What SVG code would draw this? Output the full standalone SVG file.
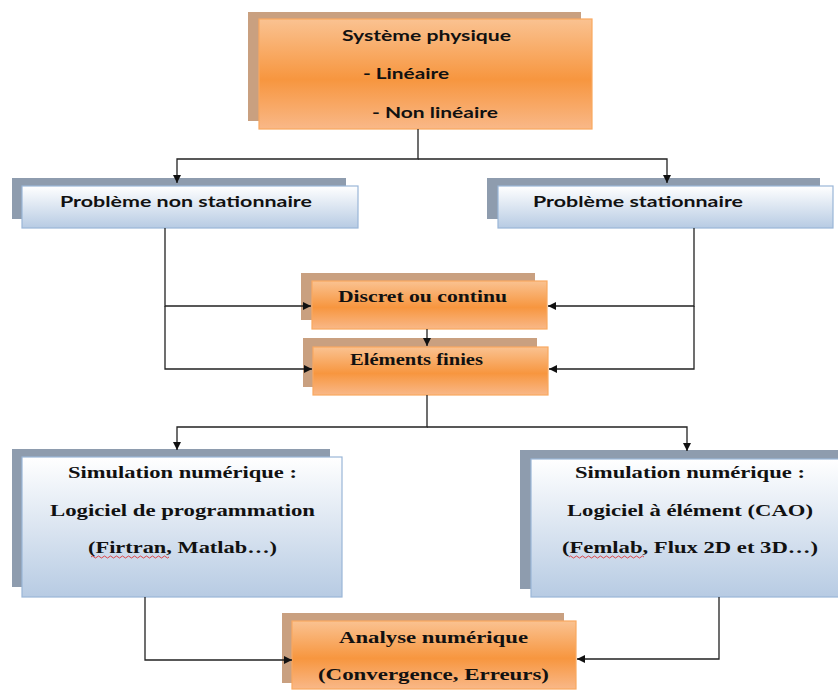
<svg xmlns="http://www.w3.org/2000/svg" width="838" height="691" viewBox="0 0 838 691">
  <defs>
    <linearGradient id="gradOrange" x1="0" y1="0" x2="0" y2="1">
      <stop offset="0" stop-color="#FAC291"/>
      <stop offset="0.55" stop-color="#F7963F"/>
      <stop offset="1" stop-color="#F9B888"/>
    </linearGradient>
    <linearGradient id="gradBlue" x1="0" y1="0" x2="0" y2="1">
      <stop offset="0" stop-color="#FFFFFF"/>
      <stop offset="1" stop-color="#B7CBE3"/>
    </linearGradient>
    <marker id="arrow" viewBox="0 0 10 10" refX="10" refY="5" markerWidth="8" markerHeight="8" markerUnits="userSpaceOnUse" orient="auto">
      <path d="M0,0 L10,5 L0,10 z" fill="#111"/>
    </marker>
  </defs>
  <style>
    .shadowO { fill: #C9A080; }
    .shadowB { fill: #8E9CAE; }
    .boxO { fill: url(#gradOrange); stroke: #F9A860; stroke-width: 1.2; }
    .boxB { fill: url(#gradBlue); stroke: #9AB6D8; stroke-width: 1.2; }
    .sans { font-family: Lato, "Liberation Sans", sans-serif; font-weight: bold; font-size: 16px; fill: #111; }
    .serif { font-family: "Liberation Serif", "Times New Roman", serif; font-weight: bold; font-size: 17px; fill: #111; }
    .link { fill: none; stroke: #222; stroke-width: 1.3; }
    .squiggle { fill: none; stroke: #E02020; stroke-width: 0.8; }
  </style>

  <rect width="838" height="691" fill="#FFFFFF"/>

  <g id="systeme-physique">
    <rect class="shadowO" x="248" y="12" width="333" height="109"/>
    <rect class="boxO" x="259" y="19" width="333" height="110"/>
    <text class="sans" x="342" y="41" textLength="169" lengthAdjust="spacingAndGlyphs">Système physique</text>
    <text class="sans" x="363" y="79" textLength="86" lengthAdjust="spacingAndGlyphs">- Linéaire</text>
    <text class="sans" x="372" y="118" textLength="126" lengthAdjust="spacingAndGlyphs">- Non linéaire</text>
  </g>

  <g id="probleme-non-stationnaire">
    <rect class="shadowB" x="12" y="178" width="334" height="41"/>
    <rect class="boxB" x="22" y="186" width="336" height="42"/>
    <text class="sans" x="60" y="207" textLength="252" lengthAdjust="spacingAndGlyphs">Problème non stationnaire</text>
  </g>

  <g id="probleme-stationnaire">
    <rect class="shadowB" x="487" y="178" width="333" height="41"/>
    <rect class="boxB" x="498" y="186" width="335" height="42"/>
    <text class="sans" x="533" y="207" textLength="210" lengthAdjust="spacingAndGlyphs">Problème stationnaire</text>
  </g>

  <g id="discret-ou-continu">
    <rect class="shadowO" x="301" y="273" width="234" height="47"/>
    <rect class="boxO" x="312" y="281" width="235" height="48"/>
    <text class="serif" x="338" y="302" textLength="169" lengthAdjust="spacingAndGlyphs">Discret ou continu</text>
  </g>

  <g id="elements-finies">
    <rect class="shadowO" x="303" y="338" width="234" height="49"/>
    <rect class="boxO" x="313" y="347" width="235" height="48"/>
    <text class="serif" x="350" y="365" textLength="133" lengthAdjust="spacingAndGlyphs">Eléments finies</text>
  </g>

  <g id="simulation-programmation">
    <rect class="shadowB" x="12" y="449" width="318" height="138"/>
    <rect class="boxB" x="22" y="457" width="320" height="140"/>
    <text class="serif" x="68" y="478" textLength="229" lengthAdjust="spacingAndGlyphs">Simulation numérique :</text>
    <text class="serif" x="50" y="516" textLength="265" lengthAdjust="spacingAndGlyphs">Logiciel de programmation</text>
    <text class="serif" x="88" y="553" textLength="189" lengthAdjust="spacingAndGlyphs">(Firtran, Matlab…)</text>
    <path class="squiggle" d="M91,557 q1.5,-2 3,0 t3,0 t3,0 t3,0 t3,0 t3,0 t3,0 t3,0 t3,0 t3,0 t3,0 t3,0 t3,0 t3,0 t3,0 t3,0 t3,0 t3,0 t3,0 t3,0 t3,0 t3,0 t3,0 t3,0 t3,0 t3,0"/>
  </g>

  <g id="simulation-cao">
    <rect class="shadowB" x="520" y="450" width="330" height="139"/>
    <rect class="boxB" x="531" y="459" width="330" height="138"/>
    <text class="serif" x="575" y="478" textLength="230" lengthAdjust="spacingAndGlyphs">Simulation numérique :</text>
    <text class="serif" x="567" y="516" textLength="246" lengthAdjust="spacingAndGlyphs">Logiciel à élément (CAO)</text>
    <text class="serif" x="562" y="553" textLength="256" lengthAdjust="spacingAndGlyphs">(Femlab, Flux 2D et 3D…)</text>
    <path class="squiggle" d="M569,557 q1.5,-2 3,0 t3,0 t3,0 t3,0 t3,0 t3,0 t3,0 t3,0 t3,0 t3,0 t3,0 t3,0 t3,0 t3,0 t3,0 t3,0 t3,0 t3,0 t3,0 t3,0 t3,0 t3,0 t3,0 t3,0 t3,0"/>
  </g>

  <g id="analyse-numerique">
    <rect class="shadowO" x="282" y="613" width="282" height="70"/>
    <rect class="boxO" x="292" y="621" width="284" height="68"/>
    <text class="serif" x="339" y="643" textLength="189" lengthAdjust="spacingAndGlyphs">Analyse numérique</text>
    <text class="serif" x="318" y="680" textLength="231" lengthAdjust="spacingAndGlyphs">(Convergence, Erreurs)</text>
  </g>

  <g id="connectors">
    <!-- top node to the two problem types -->
    <path class="link" d="M418,129 V159 H177 V183" marker-end="url(#arrow)"/>
    <path class="link" d="M418,159 H667 V183" marker-end="url(#arrow)"/>
    <!-- problem types to the discretisation nodes -->
    <path class="link" d="M165,228 V306 H311" marker-end="url(#arrow)"/>
    <path class="link" d="M165,306 V369 H312" marker-end="url(#arrow)"/>
    <path class="link" d="M694,228 V306 H548" marker-end="url(#arrow)"/>
    <path class="link" d="M694,306 V369 H549" marker-end="url(#arrow)"/>
    <path class="link" d="M427,329 V346" marker-end="url(#arrow)"/>
    <!-- finite elements to the two simulation kinds -->
    <path class="link" d="M427,395 V427 H177 V450" marker-end="url(#arrow)"/>
    <path class="link" d="M427,427 H687 V451" marker-end="url(#arrow)"/>
    <!-- simulations to numerical analysis -->
    <path class="link" d="M145,597 V660 H292" marker-end="url(#arrow)"/>
    <path class="link" d="M719,597 V659 H577" marker-end="url(#arrow)"/>
  </g>
</svg>
